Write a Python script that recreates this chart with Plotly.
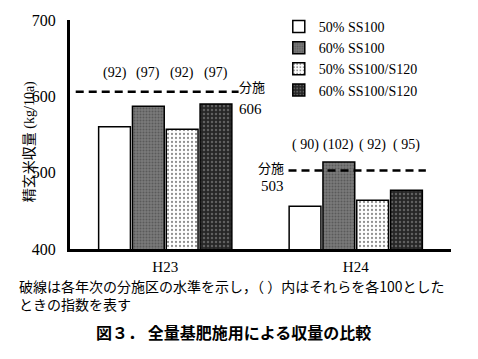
import plotly.graph_objects as go

years = ["H23", "H24"]
series_names = ["50% SS100", "60% SS100", "50% SS100/S120", "60% SS100/S120"]
yields = [
    [560, 587, 557, 590],   # H23
    [456, 514, 464, 477],   # H24
]
indices = [
    ["(92)", "(97)", "(92)", "(97)"],
    ["( 90)", "(102)", "( 92)", "( 95)"],
]
split_levels = [606, 503]
y_ticks = [400, 500, 600, 700]

SERIF = "Liberation Serif, Noto Sans CJK JP, serif"
CJK = "Noto Sans CJK JP, sans-serif"

styles = [
    dict(color="white", pattern=dict(shape="")),
    dict(color="#7a7a7a", pattern=dict(shape=".", fgcolor="#3a3a3a", size=3, solidity=0.35, fillmode="overlay")),
    dict(color="white", pattern=dict(shape=".", fgcolor="#222", size=4, solidity=0.25, fillmode="overlay")),
    dict(color="#262626", pattern=dict(shape=".", fgcolor="#9a9a9a", size=4, solidity=0.3, fillmode="overlay")),
]

fig = go.Figure()
xpos = list(range(len(years)))
for j, name in enumerate(series_names):
    fig.add_trace(go.Bar(
        x=xpos, y=[yields[i][j] for i in range(len(years))], name=name,
        marker=dict(color=styles[j]["color"], pattern=styles[j]["pattern"],
                    line=dict(color="black", width=1.5)),
    ))

BARGAP, GROUPGAP = 0.29, 0.06
slot = (1 - BARGAP) / len(series_names)

# dashed split-application lines
line_extent = [(-0.47, 0.385), (-0.353, 0.368)]
for i, lvl in enumerate(split_levels):
    x0, x1 = line_extent[i]
    fig.add_trace(go.Scatter(x=[i + x0, i + x1], y=[lvl, lvl], mode="lines",
                             line=dict(color="black", width=2.5, dash="8px,5px"),
                             showlegend=False, hoverinfo="skip"))

annotations = []
label_y = [631, 536]
for i in range(len(years)):
    for j in range(len(series_names)):
        annotations.append(dict(x=i + (j - 1.5) * slot, y=label_y[i], xref="x", yref="y",
                                text=indices[i][j], showarrow=False,
                                font=dict(family=SERIF, size=14, color="black")))

# level labels
annotations += [
    dict(x=0 + line_extent[0][1], y=split_levels[0], xref="x", yref="y", text="分施",
         xanchor="left", yshift=5, xshift=-2, showarrow=False, font=dict(family=CJK, size=13)),
    dict(x=0 + line_extent[0][1], y=split_levels[0], xref="x", yref="y", text=str(split_levels[0]),
         xanchor="left", yshift=-17, xshift=-2, showarrow=False, font=dict(family=SERIF, size=15)),
    dict(x=1 + line_extent[1][0], y=split_levels[1], xref="x", yref="y", text="分施",
         xanchor="right", yshift=3, xshift=-3, showarrow=False, font=dict(family=CJK, size=13)),
    dict(x=1 + line_extent[1][0], y=split_levels[1], xref="x", yref="y", text=str(split_levels[1]),
         xanchor="right", yshift=-16, xshift=-3, showarrow=False, font=dict(family=SERIF, size=15)),
]

# axis title
annotations.append(dict(x=-0.131, y=0.467, xref="paper", yref="paper", text="精玄米収量 (kg/10a)",
                        textangle=-90, showarrow=False, font=dict(family=SERIF, size=14)))
# note
annotations.append(dict(x=-0.138, y=-0.2, xref="paper", yref="paper", xanchor="left", yanchor="middle",
                        align="left", showarrow=False,
                        text="破線は各年次の分施区の水準を示し，（ ）内はそれらを各100とした<br>ときの指数を表す",
                        font=dict(family=CJK, size=14, color="black")))
# caption
annotations.append(dict(x=0.428, y=-0.422, xref="paper", yref="paper", showarrow=False,
                        text="<b>図３． 全量基肥施用による収量の比較</b>",
                        font=dict(family=CJK, size=16, color="black")))

# page body has an 8px default margin: the figure is offset by (8, 8)
fig.update_layout(
    width=470, height=351, margin=dict(l=62, r=27, t=12, b=110, autoexpand=False),
    paper_bgcolor="white", plot_bgcolor="white",
    barmode="group", bargap=BARGAP, bargroupgap=GROUPGAP,
    showlegend=True,
    legend=dict(x=0.548, y=1.04, xanchor="left", yanchor="top", bgcolor="rgba(0,0,0,0)",
                font=dict(family=SERIF, size=14, color="black"), tracegroupgap=0,
                itemwidth=30),
    annotations=annotations,
    font=dict(family=SERIF, color="black"),
)
fig.update_xaxes(range=[-0.5, 1.5], tickvals=xpos, ticktext=years, showgrid=False, zeroline=False,
                 showline=True, linecolor="black", linewidth=3, ticks="", ticklabelstandoff=2,
                 tickfont=dict(family=SERIF, size=15))
fig.update_yaxes(range=[400, 700], tickvals=y_ticks, showgrid=False, zeroline=False,
                 showline=True, linecolor="black", linewidth=3, ticks="", ticklabelstandoff=8,
                 tickfont=dict(family=SERIF, size=16))

fig.write_html("out.html")
